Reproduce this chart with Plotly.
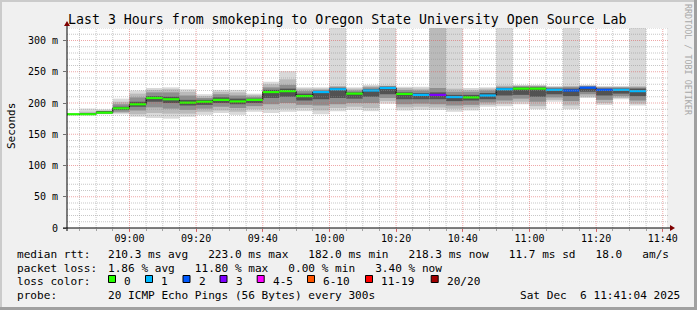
import plotly.graph_objects as go
import pandas as pd

# ---------------- data ----------------
day = "2025-12-06"
bin_start = ["08:40", "08:45", "08:50", "08:55", "09:00", "09:05", "09:10", "09:15", "09:20",
             "09:25", "09:30", "09:35", "09:40", "09:45", "09:50", "09:55", "10:00", "10:05",
             "10:10", "10:15", "10:20", "10:25", "10:30", "10:35", "10:40", "10:45", "10:50",
             "10:55", "11:00", "11:05", "11:10", "11:15", "11:20", "11:25", "11:30"]
median_ms = [182.0, 182.0, 184.5, 191.5, 198.0, 208.0, 206.0, 200.5, 202.0, 205.0, 202.5, 205.0,
             217.5, 219.0, 211.0, 217.5, 222.0, 215.0, 220.0, 224.0, 214.5, 213.0, 213.0, 209.5,
             209.0, 212.0, 222.0, 223.0, 223.0, 221.0, 220.0, 224.5, 221.0, 221.0, 219.0]
loss_pings = [0, 0, 0, 0, 0, 0, 0, 0, 0, 0, 0, 0, 0, 0, 0, 1, 1, 0, 1, 1, 0, 1, 3, 1, 0, 1, 1,
              0, 0, 1, 2, 2, 2, 1, 1]
# smoke layers (outer -> inner), ms
smoke_lo0 = [182, 182, 182, 182, 178, 176, 175, 178, 181, 184, 181, 186, 184, 186, 187, 182, 187, 189,
             187, 199, 188, 189, 189, 186, 188, 194, 195, 198, 190, 202, 190, 208, 197, 206, 196]
smoke_hi0 = [182, 191, 190, 207, 220, 224, 225, 222, 214, 221, 221, 215, 234, 251, 225, 225, 360, 225,
             229, 360, 226, 226, 360, 360, 224, 225, 360, 229, 229, 227, 360, 229, 227, 227, 360]
smoke_lo1 = [182, 182, 183, 184, 182, 184, 183, 183, 186, 188, 186, 190, 190, 191, 192, 188, 192, 194,
             192, 203, 193, 194, 193, 191, 193, 197, 199, 202, 195, 205, 196, 210, 200, 208, 199]
smoke_hi1 = [182, 186, 188, 202, 215, 221, 222, 218, 211, 218, 217, 213, 230, 238, 223, 223, 227, 223,
             227, 228, 224, 223, 360, 223, 221, 223, 228, 228, 228, 226, 227, 228, 226, 226, 227]
smoke_lo2 = [182, 182, 183, 186, 188, 193, 191, 189, 191, 194, 192, 195, 198, 200, 197, 196, 198, 200,
             200, 208, 198, 199, 198, 196, 197, 201, 204, 207, 202, 209, 203, 214, 205, 211, 204]
smoke_hi2 = [182, 184, 187, 198, 209, 217, 217, 212, 208, 214, 212, 210, 225, 229, 219, 221, 226, 220,
             225, 227, 221, 220, 224, 218, 218, 220, 226, 227, 227, 225, 226, 227, 225, 225, 225]
smoke_lo3 = [182, 182, 184, 189, 194, 202, 200, 196, 197, 200, 198, 200, 208, 210, 204, 206, 208, 207,
             210, 214, 206, 206, 206, 203, 204, 206, 212, 213, 210, 214, 211, 218, 212, 215, 211]
smoke_hi3 = [182, 183, 186, 194, 202, 211, 210, 205, 205, 209, 207, 207, 221, 223, 215, 219, 224, 217,
             222, 226, 217, 216, 217, 213, 213, 216, 224, 225, 225, 223, 223, 226, 223, 223, 223]

loss_labels = ["0", "1", "2", "3", "4-5", "6-10", "11-19", "20/20"]
loss_colors = ["#26ff00", "#00b8ff", "#0059ff", "#7e00ff", "#ff00ff", "#ff5500", "#ff0000", "#a10000"]

y_tick_vals = [0, 50, 100, 150, 200, 250, 300]
y_tick_text = ["0", "50 m", "100 m", "150 m", "200 m", "250 m", "300 m"]
x_tick_text = ["09:00", "09:20", "09:40", "10:00", "10:20", "10:40", "11:00", "11:20", "11:40"]

title = "Last 3 Hours from smokeping to Oregon State University Open Source Lab"
rtt_line = "210.3 ms avg   223.0 ms max   182.0 ms min   218.3 ms now   11.7 ms sd   18.0   am/s"
loss_line = "1.86 % avg   11.80 % max   0.00 % min   3.40 % now"
probe_line = "20 ICMP Echo Pings (56 Bytes) every 300s"
stamp = "Sat Dec  6 11:41:04 2025"

# ---------------- geometry ----------------
W, H = 697, 310
L, T, PW, PH = 67, 28, 600, 200
x_start = pd.Timestamp(f"{day} 08:41:16")
x_end = x_start + pd.Timedelta(hours=3)
Y_MAX = 320
FONT = "DejaVu Sans Mono"


def px_x(px):
    return (px - L) / PW


def px_y(py):
    return (T + PH - py) / PH


step = pd.Timedelta(minutes=5)
starts = [pd.Timestamp(f"{day} {t}") for t in bin_start]
centers = [s + step / 2 for s in starts]
bar_w = step.total_seconds() * 1000

fig = go.Figure()

layers = [(smoke_lo0, smoke_hi0, "#d9d9d9"), (smoke_lo1, smoke_hi1, "#bababa"),
          (smoke_lo2, smoke_hi2, "#8e8e8e"), (smoke_lo3, smoke_hi3, "#525252")]
for lo, hi, col in layers:
    fig.add_trace(go.Bar(x=centers, base=lo, y=[h - l for l, h in zip(lo, hi)], width=bar_w,
                         marker=dict(color=col, line=dict(width=0)), hoverinfo="skip"))

# black step connecting medians
fig.add_trace(go.Scatter(x=starts + [starts[-1] + step], y=median_ms + [median_ms[-1]],
                         mode="lines", line=dict(color="black", width=1, shape="hv"), hoverinfo="skip"))


def bucket(n):
    if n <= 3:
        return n
    if n <= 5:
        return 4
    if n <= 10:
        return 5
    if n <= 19:
        return 6
    return 7


for b, col in enumerate(loss_colors):
    xs, ys = [], []
    for s, m, n in zip(starts, median_ms, loss_pings):
        if bucket(n) == b:
            xs += [s, s + step, None]
            ys += [m, m, None]
    if xs:
        fig.add_trace(go.Scatter(x=xs, y=ys, mode="lines", line=dict(color=col, width=2.2),
                                 hoverinfo="skip"))

shapes = []
minor_col = "rgba(143,143,143,0.5)"
major_col = "rgba(222,80,80,0.5)"
# horizontal grid
for v in range(10, Y_MAX + 1, 10):
    col = major_col if v % 50 == 0 else minor_col
    shapes.append(dict(type="line", xref="paper", yref="y", x0=0, x1=px_x(669), y0=v, y1=v,
                       line=dict(color=col, width=1, dash="1px,1px"), layer="above"))
# vertical grid
g = pd.Timestamp(f"{day} 08:45")
while g <= x_end:
    col = major_col if g.minute % 20 == 0 else minor_col
    shapes.append(dict(type="line", xref="x", yref="paper", x0=g, x1=g, y0=0, y1=1,
                       line=dict(color=col, width=1, dash="1px,1px"), layer="above"))
    g += step

# axes lines + arrows
shapes.append(dict(type="line", xref="paper", yref="paper", x0=px_x(63), x1=px_x(670),
                   y0=0, y1=0, line=dict(color="black", width=1), layer="above"))
shapes.append(dict(type="line", xref="paper", yref="paper", x0=0, x1=0,
                   y0=px_y(231), y1=px_y(25), line=dict(color="black", width=1), layer="above"))
ax, ay = L + PW + 3, T + PH
shapes.append(dict(type="path", xref="paper", yref="paper",
                   path=f"M {px_x(ax)} {px_y(ay-3)} L {px_x(ax+5)} {px_y(ay)} L {px_x(ax)} {px_y(ay+3)} Z",
                   fillcolor="#7f0000", line=dict(width=0), layer="above"))
shapes.append(dict(type="path", xref="paper", yref="paper",
                   path=f"M {px_x(L-3)} {px_y(26)} L {px_x(L)} {px_y(21)} L {px_x(L+3)} {px_y(26)} Z",
                   fillcolor="#7f0000", line=dict(width=0), layer="above"))

# frame shading
shapes.append(dict(type="rect", xref="paper", yref="paper", x0=px_x(0), x1=px_x(W), y0=px_y(H - 3),
                   y1=px_y(H), fillcolor="#a0a0a0", line=dict(width=0)))
shapes.append(dict(type="rect", xref="paper", yref="paper", x0=px_x(W - 3), x1=px_x(W), y0=px_y(H),
                   y1=px_y(0), fillcolor="#a0a0a0", line=dict(width=0)))
shapes.append(dict(type="rect", xref="paper", yref="paper", x0=px_x(0), x1=px_x(W - 3), y0=px_y(2),
                   y1=px_y(0), fillcolor="#cbcbcb", line=dict(width=0)))
shapes.append(dict(type="rect", xref="paper", yref="paper", x0=px_x(0), x1=px_x(2), y0=px_y(H - 3),
                   y1=px_y(0), fillcolor="#cbcbcb", line=dict(width=0)))

# loss colour swatches
swatch_x = [108, 145, 182.5, 219.5, 256.7, 307, 365, 430.7]
annotations = []
for sx, col, lab in zip(swatch_x, loss_colors, loss_labels):
    shapes.append(dict(type="rect", xref="paper", yref="paper", x0=px_x(sx + 0.5), x1=px_x(sx + 7.5),
                       y0=px_y(282.5), y1=px_y(275.5), fillcolor=col, line=dict(color="black", width=1)))
    annotations.append((lab, sx + 15, 281.5, 11.1, "left"))


def ann(text, px, py, size, anchor="left", angle=0, color="black"):
    return dict(text=text, x=px_x(px), y=px_y(py), xref="paper", yref="paper", showarrow=False,
                xanchor=anchor, yanchor="middle", textangle=angle, borderpad=0,
                font=dict(family=FONT, size=size, color=color))


annotations += [
    ("median rtt:", 16, 254.5, 11.1, "left"),
    (rtt_line, 107.3, 254.5, 11.1, "left"),
    ("packet loss:", 16, 268.3, 11.1, "left"),
    (loss_line, 107.3, 268.3, 11.1, "left"),
    ("loss color:", 16, 281.5, 11.1, "left"),
    ("probe:", 16, 295.8, 11.1, "left"),
    (probe_line, 107.3, 295.8, 11.1, "left"),
    (stamp, 680.5, 295.8, 11.1, "right"),
    (title, 347.3, 19, 13.25, "center"),
]
ann_list = [ann(*a) for a in annotations]
ann_list.append(ann("Seconds", 11, 126, 11, "center", angle=-90))
ann_list.append(ann("RRDTOOL / TOBI OETIKER", 688, 60, 8.4, "center", angle=90, color="#a8a8a8"))

fig.update_layout(
    width=W, height=H, margin=dict(l=L, r=W - L - PW, t=T, b=H - T - PH),
    paper_bgcolor="#f0f0f0", plot_bgcolor="#ffffff", showlegend=False, barmode="overlay",
    font=dict(family=FONT, size=10, color="black"),
    shapes=shapes, annotations=ann_list,
    xaxis=dict(type="date", range=[x_start, x_end], showgrid=False, zeroline=False, showline=False,
               tickvals=[pd.Timestamp(f"{day} {t}") for t in x_tick_text], ticktext=x_tick_text,
               ticks="outside", ticklen=3, tickcolor="rgba(222,80,80,0.8)", tickwidth=1,
               tickfont=dict(family=FONT, size=10, color="black"), ticklabelstandoff=-2,
               minor=dict(ticks="outside", ticklen=2, tickcolor="rgba(143,143,143,0.8)",
                          dtick=bar_w, tick0=pd.Timestamp(f"{day} 08:45"), showgrid=False),
               fixedrange=True),
    yaxis=dict(range=[0, Y_MAX], showgrid=False, zeroline=False, showline=False,
               tickvals=y_tick_vals, ticktext=y_tick_text, ticks="outside", ticklen=3,
               tickcolor="#707070", tickfont=dict(family=FONT, size=10, color="black"),
               ticklabelstandoff=3, fixedrange=True),
)

fig.write_html("out.html")
